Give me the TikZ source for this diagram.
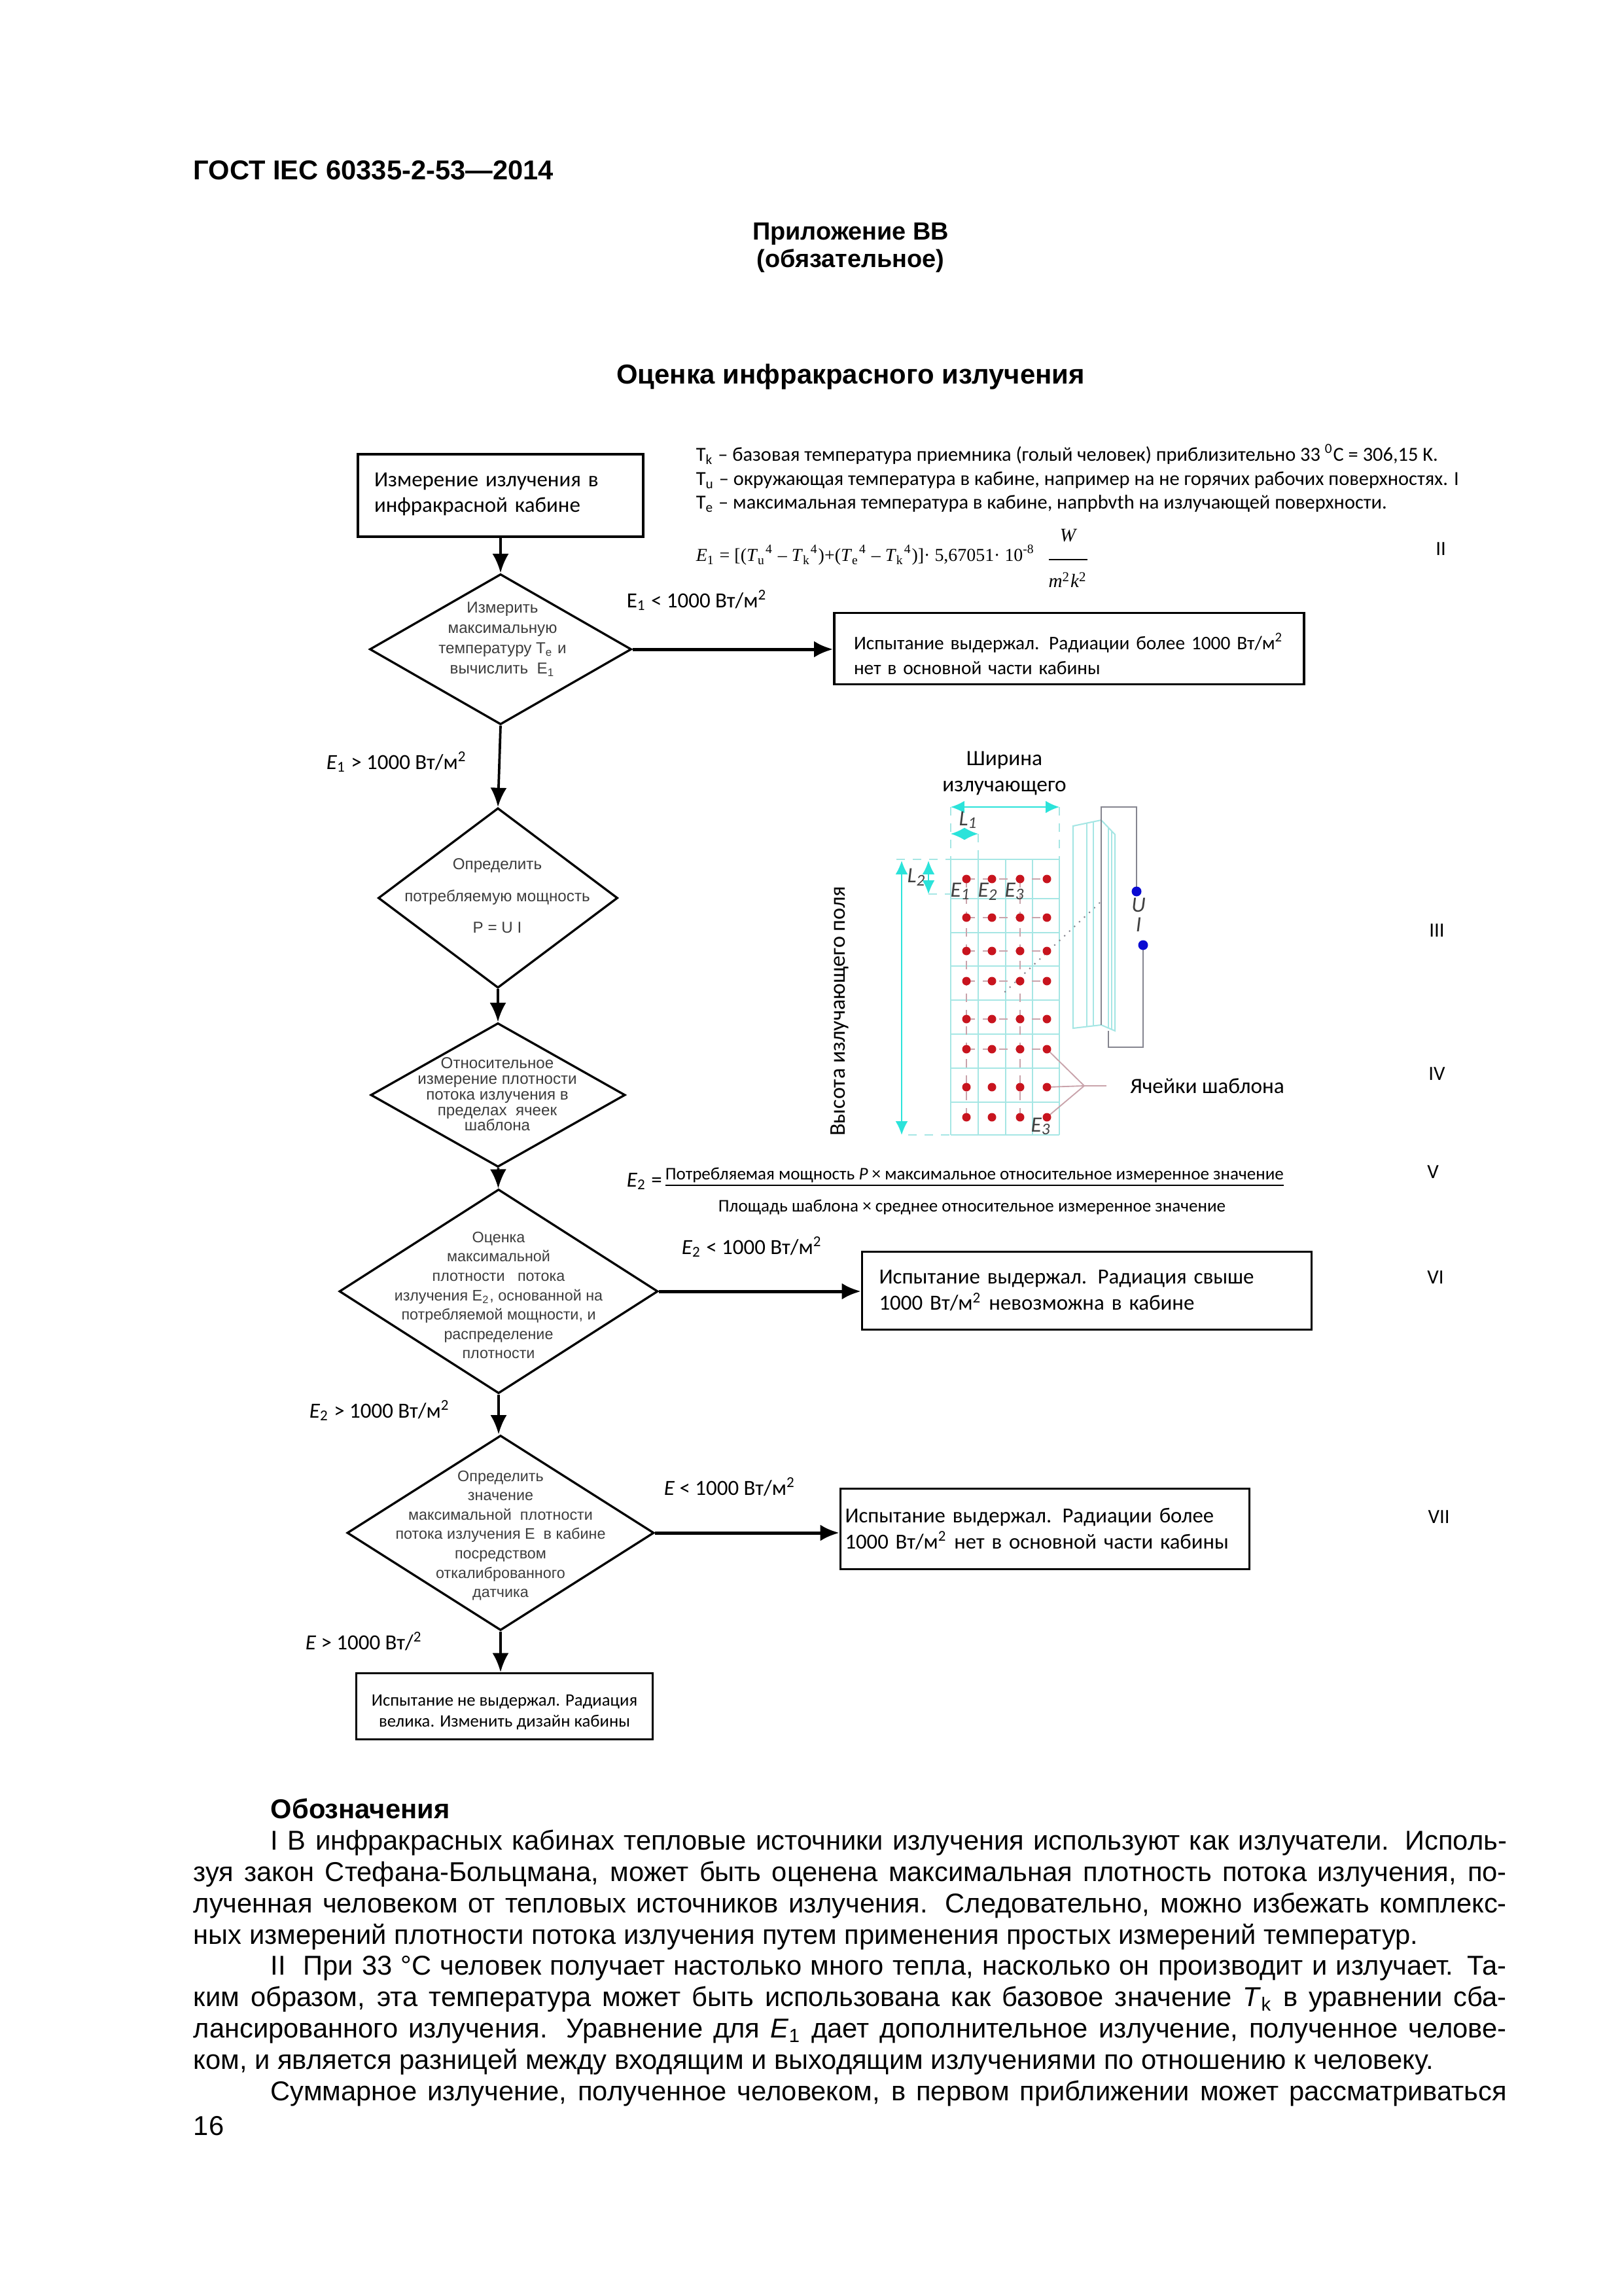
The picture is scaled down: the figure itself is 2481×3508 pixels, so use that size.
\documentclass[tikz,border=0pt]{standalone}
\usepackage{xcolor}
\usepackage{amsmath}
\usepackage{fontspec}
\setmainfont{Liberation Sans}
\newfontfamily\cali{Carlito}
\newfontfamily\tms{Liberation Serif}
\usepackage{tikz}
\usetikzlibrary{arrows.meta,shapes.geometric,positioning}
\definecolor{gridcyan}{HTML}{A6E6E4}
\definecolor{arrowcyan}{HTML}{2BE3DA}
\definecolor{dotred}{HTML}{C8141E}
\definecolor{dotblue}{HTML}{0A0AD2}
\definecolor{wiregray}{HTML}{85858F}
\definecolor{leadpink}{HTML}{C9A3AB}
\definecolor{diatext}{HTML}{3C3C3C}
\newcommand{\tpow}[1]{\textit{T}\textsubscript{#1}\textsuperscript{4}}
\tikzset{
    flowbox/.style 2 args={draw,rectangle,line width=.8pt,inner sep=0pt,align=left,minimum width=#1*.24pt,minimum height=#2*.24pt},
    flowdia/.style 2 args={draw,shape=diamond,line width=.8pt,inner sep=0pt,minimum width=#1*.24pt,minimum height=#2*.24pt},
    diatxt/.style 2 args={inner sep=0pt,align=center,text=diatext,font=\fontsize{#1}{#2}\selectfont},
    txt/.style={inner sep=0pt,anchor=base west},
    cond/.style={txt,font=\fontsize{7.9}{9}\selectfont\cali},
    note/.style={txt,font=\fontsize{7.3}{8}\selectfont\cali},
    boxfont/.style={font=\fontsize{#1}{9.6}\selectfont\cali},
    roman/.style={inner sep=0pt,font=\fontsize{7.4}{9}\selectfont\cali},
    tagged/.style={inner sep=0pt,font=\fontsize{8}{9}\selectfont\cali\itshape,text=black!75},
    sidetxt/.style={inner sep=0pt,font=\fontsize{8}{9.6}\selectfont\cali},
    gridline/.style={draw=gridcyan,line width=.5pt},
    dimline/.style={draw=gridcyan,line width=.5pt,dashed},
    dimarrow/.style={draw=arrowcyan,line width=.5pt,{Latex[length=5pt,width=4.5pt]}-{Latex[length=5pt,width=4.5pt]}},
    wire/.style={draw=wiregray,line width=.45pt},
    leader/.style={draw=leadpink,line width=.45pt},
    hop/.style={draw=leadpink,line width=.4pt,dashed}
}
\begin{document}
\begin{tikzpicture}[x=.24pt,y=-.24pt,>={Latex[length=7pt,width=6pt]}]
    \useasboundingbox (0,0) rectangle (2481,3508);
    \path
        (295,275)    node [txt,font=\fontsize{10}{12}\selectfont\bfseries] (gost) {ГОСТ IEC 60335-2-53—2014}
        (1300,357)   node [inner sep=0pt,font=\fontsize{9.1}{11.5}\selectfont\bfseries] (annex) {Приложение ВВ}
        (1300,399)   node [inner sep=0pt,font=\fontsize{9.1}{11.5}\selectfont\bfseries] (annexkind) {(обязательное)}
        (1300,576)   node [inner sep=0pt,font=\fontsize{10.05}{12}\selectfont\bfseries] (title) {Оценка инфракрасного излучения}
        ;
    \path
        (765,757)    node [flowbox={436}{126},boxfont=7.9,text width=386*.24pt] (rmeas) {Измерение излучения в\\[-.2pt]инфракрасной кабине\rule[-2pt]{0pt}{0pt}}
        (1634,991)   node [flowbox={718}{109},boxfont=7.05,text width=658*.24pt] (rpassone) {\rule{0pt}{10pt}Испытание выдержал. Радиации более 1000 Вт/м\textsuperscript{2}\\[-.5pt]нет в основной части кабины}
        (1661,1972)  node [flowbox={687}{119},boxfont=7.9,text width=635*.24pt] (rpasstwo) {Испытание выдержал. Радиация свыше\\1000 Вт/м\textsuperscript{2} невозможна в кабине}
        (1597,2336)  node [flowbox={625}{123},boxfont=7.85,text width=611*.24pt] (rpassthree) {Испытание выдержал. Радиации более\\1000 Вт/м\textsuperscript{2} нет в основной части кабины}
        (771,2607)   node [flowbox={453}{101},align=center,font=\fontsize{6.4}{7.6}\selectfont\cali] (rfail) {\rule{0pt}{8.5pt}Испытание не выдержал. Радиация\\велика. Изменить дизайн кабины}
        (765,992)    node [flowdia={400}{230}] (dmax) {}
        (761,1372)   node [flowdia={366}{275}] (dpower) {}
        (761,1673)   node [flowdia={389}{220}] (drel) {}
        (762,1973)   node [flowdia={487}{312}] (destim) {}
        (765,2342)   node [flowdia={469}{298}] (dsensor) {}
        ;
    \path
        (768,977)    node [diatxt={5.8}{7.4}] (tmax) {Измерить\\максимальную\\температуру T\textsubscript{e} и\\вычислить \ E\textsubscript{1}}
        (760,1369)   node [diatxt={5.8}{11.6}] (tpower) {Определить\\потребляемую мощность\\P = U I}
        (760,1672)   node [diatxt={5.8}{5.7}] (trel) {Относительное\\измерение плотности\\потока излучения в\\пределах \ ячеек\\шаблона}
        (762,1979)   node [diatxt={5.6}{7.1}] (testim) {Оценка\\максимальной\\плотности \ \ потока\\излучения E\textsubscript{2}, основанной на\\потребляемой мощности, и\\распределение\\плотности}
        (765,2346)   node [diatxt={5.6}{7.1}] (tsensor) {Определить\\значение\\максимальной \ плотности\\потока излучения E \ в кабине\\посредством\\откалиброванного\\датчика}
        ;
    \draw [->,line width=.9pt] (rmeas) -- (dmax);
    \draw [->,line width=.9pt] (dmax.south) -- (dpower.north);
    \draw [->,line width=.9pt] (dpower) -- (drel);
    \draw [->,line width=.9pt] (drel) -- (destim);
    \draw [->,line width=.9pt] (destim.south) -- (destim.south |- dsensor.north);
    \draw [->,line width=.9pt] (dsensor) -- (dsensor.south |- rfail.north);
    \draw [->,line width=1.2pt] (dmax.east) -- (dmax.east -| rpassone.west);
    \draw [->,line width=1.2pt] (destim.east) -- (destim.east -| rpasstwo.west);
    \draw [->,line width=1.2pt] (dsensor.east) -- (dsensor.east -| rpassthree.west);
    \path
        (957,928)    node [cond] (cone) {E\textsubscript{1} < 1000 Вт/м\textsuperscript{2}}
        (498,1175)   node [cond] (ctwo) {\textit{E}\textsubscript{1} > 1000 Вт/м\textsuperscript{2}}
        (1041,1916)  node [cond] (cthree) {\textit{E}\textsubscript{2} < 1000 Вт/м\textsuperscript{2}}
        (472,2166)   node [cond] (cfour) {\textit{E}\textsubscript{2} > 1000 Вт/м\textsuperscript{2}}
        (1014,2284)  node [cond] (cfive) {\textit{E} < 1000 Вт/м\textsuperscript{2}}
        (466,2520)   node [cond] (csix) {\textit{E} > 1000 Вт/\textsuperscript{2}}
        (957,1813)   node [cond] (etwo) {\textit{E}\textsubscript{2} =}
        (1016,1802)  node [note,font=\fontsize{6.5}{8}\selectfont\cali] (enum) {\underline{Потребляемая мощность \textit{P} × максимальное относительное измеренное значение}}
        (1097,1851)  node [note,font=\fontsize{6.5}{8}\selectfont\cali] (eden) {Площадь шаблона × среднее относительное измеренное значение}
        ;
    \path
        (1063,705)   node [note] (tk) {T\textsubscript{k} – базовая температура приемника (голый человек) приблизительно 33 \textsuperscript{0}C = 306,15 K.}
        (1063,742)   node [note] (tu) {T\textsubscript{u} – окружающая температура в кабине, например на не горячих рабочих поверхностях. I}
        (1063,778)   node [note] (te) {T\textsubscript{e} – максимальная температура в кабине, напрbvth на излучающей поверхности.}
        (1063,858)   node [txt,font=\fontsize{6.7}{8}\selectfont\tms] (formula) {\textit{E}\textsubscript{1} = [(\tpow{u} – \tpow{k})+(\tpow{e} – \tpow{k})]· 5,67051· 10\textsuperscript{-8}}
        (1632,853)   node [inner sep=0pt,font=\fontsize{7}{8}\selectfont\tms] (fracunit) {$\dfrac{\textit{W}\rule[-5.3pt]{0pt}{0pt}}{\rule{0pt}{9pt}\textit{m}\textsuperscript{2}\textit{k}\textsuperscript{2}}$}
        ;
    \path
        (2202,839)   node [roman] (rtwo) {II}
        (2196,1422)  node [roman] (rthree) {III}
        (2196,1641)  node [roman] (rfour) {IV}
        (2190,1791)  node [roman] (rfive) {V}
        (2194,1952)  node [roman] (rsix) {VI}
        (2199,2318)  node [roman] (rseven) {VII}
        ;
    % template
    \foreach \gx in {1453,1495,1537,1578,1619}
        \draw [gridline] (\gx,1313) -- (\gx,1734);
    \foreach \gy in {1313,1373,1425,1476,1528,1580,1632,1684,1734}
        \draw [gridline] (1453,\gy) -- (1619,\gy);
    \foreach \gy in {1343,1402,1453,1499,1557,1603}
        \draw [hop] (1477,\gy) -- (1600,\gy);
    \draw [hop] (1477,1343) -- (1477,1707);
    \draw [hop] (1559,1343) -- (1559,1707);
    \draw [dimline] (1453,1233) -- (1453,1313);
    \draw [dimline] (1495,1274) -- (1495,1313);
    \draw [dimline] (1619,1233) -- (1619,1313);
    \draw [dimline] (1370,1313) -- (1453,1313);
    \draw [dimline] (1419,1366) -- (1453,1366);
    \draw [dimline] (1388,1734) -- (1453,1734);
    \draw [dimarrow] (1453,1233) -- (1619,1233);
    \draw [dimarrow] (1453,1274) -- (1495,1274);
    \draw [dimarrow] (1419,1315) -- (1419,1366);
    \draw [dimarrow] (1378,1315) -- (1378,1734);
    \draw [gridline,dotted,draw=wiregray] (1681,1379) -- (1531,1520);
    \coordinate (hubcells) at (1657,1659);
    \draw [leader] (1600,1603) -- (hubcells);
    \draw [leader] (1600,1661) -- (hubcells);
    \draw [leader] (1600,1707) -- (hubcells);
    \foreach \dx in {1477,1516,1559,1600}
        \foreach \dy in {1343,1402,1453,1499,1557,1603,1661,1707}
            \fill [dotred] (\dx,\dy) circle (6.5);
    % radiator
    \draw [gridline] (1640,1262) -- (1683,1253) -- (1704,1275) -- (1704,1575) -- (1683,1566) -- (1640,1571) -- cycle;
    \draw [gridline] (1661,1258) -- (1661,1569);
    \draw [gridline] (1671,1256) -- (1671,1568);
    \draw [gridline] (1694,1264) -- (1694,1571);
    \draw [gridline] (1699,1270) -- (1699,1573);
    \draw [wire] (1683,1566) -- (1683,1233) -- (1737,1233) -- (1737,1362);
    \draw [wire] (1747,1444) -- (1747,1600) -- (1694,1600) -- (1694,1575);
    \fill [dotblue] (1737,1362) circle (7.5);
    \fill [dotblue] (1747,1444) circle (7.5);
    \path
        (1535,1161)  node [sidetxt] (wtop) {Ширина}
        (1535,1204)  node [sidetxt] (wbot) {излучающего}
        (1283,1545)  node [sidetxt,rotate=90,font=\fontsize{8.2}{9.6}\selectfont\cali] (htxt) {Высота излучающего поля}
        (1845,1659)  node [sidetxt] (cells) {Ячейки шаблона}
        (1480,1253)  node [tagged] (lone) {L\textsubscript{1}}
        (1401,1340)  node [tagged] (ltwo) {L\textsubscript{2}}
        (1468,1362)  node [tagged] (eone) {E\textsubscript{1}}
        (1510,1362)  node [tagged] (etwolab) {E\textsubscript{2}}
        (1551,1362)  node [tagged] (ethree) {E\textsubscript{3}}
        (1591,1721)  node [tagged] (elast) {E\textsubscript{3}}
        (1740,1383)  node [tagged] (ulab) {U}
        (1740,1413)  node [tagged] (ilab) {I}
        ;
    \draw [leader] (hubcells) -- (1691,1659);
    \path
        (295,2747)   node [anchor=north west,inner sep=0pt,text width=2007*.24pt,align=justify,font=\fontsize{10}{11.5}\selectfont] (legend) {%
            \hspace*{118\dimexpr.24pt\relax}\textbf{Обозначения}\par
            \hspace*{118\dimexpr.24pt\relax}I В инфракрасных кабинах тепловые источники излучения используют как излучатели. Исполь-\linebreak
            зуя закон Стефана-Больцмана, может быть оценена максимальная плотность потока излучения, по-\linebreak
            лученная человеком от тепловых источников излучения. Следовательно, можно избежать комплекс-\linebreak
            ных измерений плотности потока излучения путем применения простых измерений температур.\par
            \hspace*{118\dimexpr.24pt\relax}II \ При 33 °С человек получает настолько много тепла, насколько он производит и излучает. Та-\linebreak
            ким образом, эта температура может быть использована как базовое значение \textit{T}\textsubscript{k} в уравнении сба-\linebreak
            лансированного излучения. Уравнение для \textit{E}\textsubscript{1} дает дополнительное излучение, полученное челове-\linebreak
            ком, и является разницей между входящим и выходящим излучениями по отношению к человеку.\par
            \hspace*{118\dimexpr.24pt\relax}Суммарное излучение, полученное человеком, в первом приближении может рассматриваться{\parfillskip=0pt\par}}
        (295,3262)   node [txt,font=\fontsize{10}{12}\selectfont] (pageno) {16}
        ;
\end{tikzpicture}
\end{document}
